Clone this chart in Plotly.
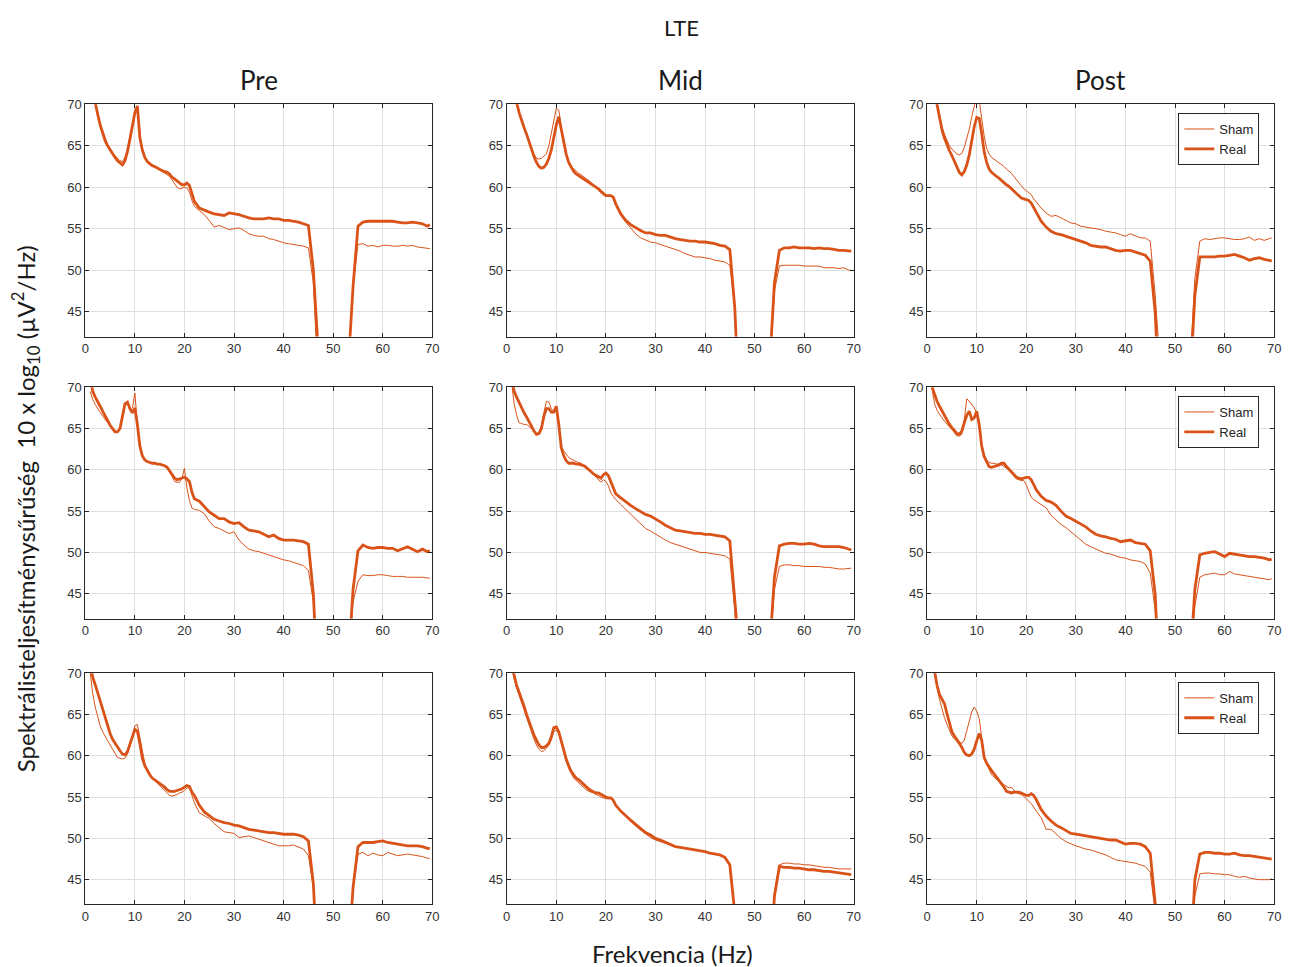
import plotly.graph_objects as go

W, H = 1301, 967

# Frequency axis (Hz): 0.5 Hz steps up to 22 Hz, then 1 Hz steps
FREQ = [1 + 0.5 * i for i in range(43)] + list(range(23, 70)) + [69.5]

COLUMN_TITLES = ["Pre", "Mid", "Post"]
X_TICKS = [0, 10, 20, 30, 40, 50, 60, 70]
Y_TICKS = [45, 50, 55, 60, 65, 70]

# ---------------- Row 1 ----------------
sham_pre_1 = [73, 71.5, 70.0, 68.8, 67.7, 66.8, 65.9, 65.2, 64.6, 64.1, 63.8, 63.5, 63.2, 63.1, 63.6, 64.6, 66.0, 67.5, 69.0, 69.5,
              66.2, 64.6, 63.7, 63.2, 62.9, 62.6, 62.4, 62.3, 62.1, 61.9, 61.7, 61.5, 61.3, 60.9, 60.5, 60.0, 59.8, 59.9, 60.0, 59.9,
              59.4, 58.4, 57.7,
              57.2, 56.7, 56.0, 55.2, 55.4, 55.1, 54.9, 55.0, 55.1, 54.8, 54.4, 54.2, 54.1, 54.1, 53.8, 53.7, 53.5, 53.3, 53.2, 53.1,
              53.0, 52.9, 52.7,
              48.5, 36, 30, 30, 30, 30, 30, 38, 48,
              53.1, 53.2, 52.9, 53.0, 52.8, 53.0, 53.0, 52.9, 52.9, 53.0, 52.9, 53.0, 52.8, 52.7, 52.6, 52.6]
real_pre_1 = [73, 71.5, 70.0, 68.8, 67.5, 66.5, 65.6, 65.0, 64.5, 64.0, 63.6, 63.2, 62.9, 62.7, 63.2, 64.3, 65.8, 67.5, 69.0, 69.8,
              66.0, 64.5, 63.6, 63.1, 62.8, 62.6, 62.5, 62.3, 62.2, 62.0, 61.9, 61.8, 61.6, 61.2, 61.0, 60.8, 60.6, 60.3, 60.3, 60.5,
              60.2, 59.2, 58.3,
              57.5, 57.2, 57.0, 56.8, 56.7, 56.6, 56.9, 56.8, 56.7, 56.5, 56.3, 56.2, 56.2, 56.2, 56.3, 56.2, 56.2, 56.0, 56.0, 55.9,
              55.8, 55.6, 55.4,
              50.0, 36, 30, 30, 30, 30, 30, 38, 48,
              55.3, 55.8, 55.9, 55.9, 55.9, 55.9, 55.9, 55.9, 55.8, 55.7, 55.7, 55.8, 55.7, 55.6, 55.3, 55.5]

sham_mid_1 = [73, 71.5, 70.2, 69.0, 68.0, 67.2, 66.4, 65.6, 64.8, 64.0, 63.5, 63.4, 63.5, 63.7, 64.0, 65.0, 66.5, 68.3, 69.5, 69.3,
              67.2, 65.3, 63.8, 62.9, 62.5, 62.2, 61.9, 61.7, 61.5, 61.3, 61.1, 60.9, 60.6, 60.3, 60.0, 59.7, 59.4, 59.1, 59.0, 59.0,
              58.9, 58.7, 57.8,
              56.6, 55.8, 55.1, 54.4, 53.9, 53.6, 53.4, 53.3, 53.1, 52.9, 52.7, 52.5, 52.3, 52.0, 51.8, 51.6, 51.6, 51.5, 51.4, 51.2,
              51.1, 51.0, 50.6,
              45.5, 32, 30, 30, 30, 30, 30, 38, 47.5,
              50.5, 50.6, 50.6, 50.6, 50.6, 50.5, 50.5, 50.5, 50.5, 50.3, 50.3, 50.3, 50.2, 50.3, 50.0, 50.0]
real_mid_1 = [73, 71.5, 70.2, 69.0, 68.0, 67.2, 66.4, 65.4, 64.5, 63.7, 63.0, 62.5, 62.3, 62.4, 62.8, 63.5, 64.5, 66.0, 67.5, 68.5,
              67.0, 65.3, 64.0, 63.0, 62.4, 61.9, 61.6, 61.4, 61.2, 61.0, 60.8, 60.7, 60.5, 60.3, 60.1, 59.8, 59.5, 59.2, 59.0, 59.0,
              59.0, 58.8, 58.0,
              56.8, 56.0, 55.5, 55.1, 54.8, 54.5, 54.5, 54.3, 54.2, 54.2, 54.0, 53.8, 53.7, 53.6, 53.5, 53.5, 53.4, 53.4, 53.3, 53.2,
              53.0, 52.9, 52.5,
              45.5, 32, 30, 30, 30, 30, 30, 38, 48.5,
              52.4, 52.7, 52.7, 52.8, 52.7, 52.7, 52.7, 52.6, 52.7, 52.6, 52.6, 52.5, 52.4, 52.4, 52.3, 52.3]

sham_post_1 = [73, 71.5, 70.0, 68.5, 67.3, 66.4, 65.6, 65.0, 64.6, 64.3, 64.0, 63.9, 64.1, 64.8, 65.8, 67.0, 68.5, 69.7, 71.0, 70.5,
               68.2, 66.2, 64.7, 64.0, 63.6, 63.4, 63.2, 63.0, 62.8, 62.5, 62.2, 62.0, 61.7, 61.3, 60.9, 60.5, 60.1, 59.8, 59.6, 59.4,
               59.1, 58.6, 58.2,
               57.5, 56.9, 56.5, 56.6, 56.3, 56.0, 55.7, 55.6, 55.3, 55.2, 55.1, 55.0, 54.9, 54.7, 54.6, 54.5, 54.3, 54.1, 54.4, 54.1,
               53.9, 53.9, 53.5,
               47.0, 33, 30, 30, 30, 30, 30, 38, 49,
               53.5, 53.8, 53.7, 53.8, 53.9, 53.9, 53.8, 53.7, 53.7, 53.8, 54.0, 53.6, 53.8, 53.6, 53.8, 53.9]
real_post_1 = [73, 71.5, 70.0, 68.3, 66.9, 65.9, 65.1, 64.4, 63.8, 63.1, 62.5, 61.8, 61.5, 61.9, 62.7, 63.9, 65.6, 67.3, 68.4, 68.3,
               66.5, 64.3, 63.0, 62.2, 61.8, 61.5, 61.3, 61.1, 60.8, 60.5, 60.3, 60.1, 59.8, 59.5, 59.2, 58.9, 58.7, 58.6, 58.5, 58.4,
               58.1, 57.6, 57.0,
               55.9, 55.2, 54.7, 54.4, 54.3, 54.1, 53.9, 53.7, 53.5, 53.3, 53.0, 52.9, 52.8, 52.8, 52.6, 52.4, 52.3, 52.4, 52.4, 52.2,
               52.0, 51.8, 51.1,
               44.9, 32, 30, 30, 30, 30, 30, 36, 46.9,
               51.6, 51.6, 51.6, 51.6, 51.7, 51.7, 51.8, 51.9, 51.7, 51.5, 51.2, 51.4, 51.5, 51.3, 51.2, 51.1]

# ---------------- Row 2 ----------------
sham_pre_2 = [69.5, 68.5, 67.9, 67.4, 66.9, 66.5, 66.1, 65.7, 65.3, 65.0, 64.7, 64.6, 65.0, 66.5, 68.0, 68.2, 67.2, 67.5, 69.3, 65.5,
              62.6, 61.6, 61.2, 61.0, 60.9, 60.8, 60.8, 60.7, 60.7, 60.6, 60.5, 60.3, 59.8, 59.2, 58.6, 58.5, 58.5, 59.0, 60.2, 57.8,
              56.3, 55.4, 55.2,
              55.1, 54.7, 53.8, 53.1, 52.9, 52.6, 52.3, 52.5, 51.5, 50.9, 50.4, 50.2, 50.1, 49.9, 49.7, 49.5, 49.3, 49.1, 49.0, 48.8,
              48.6, 48.4, 47.8,
              44.0, 32, 30, 30, 30, 30, 30, 36, 44.0,
              46.5, 47.3, 47.2, 47.2, 47.3, 47.3, 47.2, 47.1, 47.1, 47.1, 47.0, 47.0, 47.0, 47.0, 46.9, 46.9]
real_pre_2 = [71.0, 69.5, 68.8, 68.3, 67.7, 67.1, 66.5, 66.0, 65.4, 65.0, 64.6, 64.6, 65.0, 66.5, 68.0, 68.2, 67.4, 66.9, 67.5, 65.5,
              62.9, 61.7, 61.2, 61.0, 60.9, 60.8, 60.8, 60.7, 60.7, 60.6, 60.5, 60.3, 59.9, 59.4, 59.0, 58.8, 58.9, 59.0, 59.1, 58.9,
              58.6, 57.3, 56.5,
              56.2, 55.5, 54.9, 54.5, 54.1, 54.1, 53.7, 53.5, 53.6, 53.1, 52.7, 52.6, 52.5, 52.2, 51.9, 52.1, 51.7, 51.5, 51.5, 51.5,
              51.4, 51.3, 51.0,
              45.0, 32, 30, 30, 30, 30, 30, 36, 45.5,
              50.2, 50.9, 50.6, 50.5, 50.6, 50.6, 50.5, 50.5, 50.2, 50.5, 50.7, 50.4, 50.1, 50.4, 50.1, 50.2]

sham_mid_2 = [70.5, 68.0, 66.6, 65.7, 65.6, 65.5, 65.5, 65.3, 65.0, 64.7, 64.4, 64.5, 65.3, 66.9, 68.3, 68.2, 67.4, 67.1, 67.5, 65.5,
              62.8, 62.3, 61.9, 61.5, 61.3, 61.1, 61.0, 60.9, 60.8, 60.6, 60.5, 60.1, 59.8, 59.5, 59.2, 58.8, 58.5, 58.8, 58.6, 58.1,
              57.2, 56.8, 56.4,
              55.8, 55.2, 54.6, 54.0, 53.4, 52.9, 52.6, 52.2, 51.9, 51.5, 51.2, 51.0, 50.8, 50.6, 50.4, 50.2, 50.0, 50.0, 49.9, 49.8,
              49.7, 49.6, 49.2,
              43.0, 32, 30, 30, 30, 30, 30, 38, 45.5,
              48.3, 48.5, 48.5, 48.4, 48.4, 48.3, 48.3, 48.3, 48.3, 48.2, 48.2, 48.1, 48.0, 48.0, 48.1, 48.1]
real_mid_2 = [71.0, 69.5, 68.8, 68.1, 67.5, 66.9, 66.4, 65.9, 65.3, 64.7, 64.3, 64.4, 65.0, 66.5, 67.4, 67.4, 67.0, 67.0, 67.7, 65.5,
              62.7, 61.7, 61.1, 60.8, 60.8, 60.8, 60.7, 60.7, 60.6, 60.5, 60.3, 60.1, 59.8, 59.5, 59.3, 59.1, 59.0, 59.4, 59.6, 59.3,
              58.6, 57.8, 57.1,
              56.6, 56.1, 55.7, 55.3, 54.9, 54.6, 54.4, 54.1, 53.7, 53.3, 53.0, 52.7, 52.6, 52.5, 52.4, 52.3, 52.3, 52.2, 52.2, 52.1,
              52.0, 51.9, 51.4,
              44.0, 32, 30, 30, 30, 30, 30, 38, 47.0,
              50.8, 51.0, 51.1, 51.1, 51.0, 51.0, 51.1, 51.0, 50.8, 50.7, 50.7, 50.7, 50.7, 50.6, 50.4, 50.3]

sham_post_2 = [69.8, 68.0, 67.2, 66.7, 66.3, 65.9, 65.5, 65.2, 64.9, 64.5, 64.1, 64.1, 64.3, 66.1, 68.6, 68.3, 67.9, 67.5, 66.9, 65.2,
               62.9, 61.8, 61.2, 60.9, 60.8, 60.8, 60.7, 60.7, 60.6, 60.4, 60.2, 60.0, 59.6, 59.2, 58.9, 58.8, 58.7, 58.7, 58.2, 57.4,
               56.7, 56.4, 56.2,
               55.9, 55.4, 54.5, 53.9, 53.4, 53.0, 52.5, 52.0, 51.6, 51.0, 50.7, 50.4, 50.1, 49.9, 49.8, 49.6, 49.4, 49.3, 49.1, 49.0,
               48.9, 48.6, 47.5,
               43.0, 32, 30, 30, 30, 30, 30, 36, 43.5,
               47.0, 47.3, 47.4, 47.5, 47.3, 47.3, 47.7, 47.4, 47.3, 47.2, 47.1, 47.0, 46.9, 46.8, 46.7, 46.8]
real_post_2 = [70.0, 69.0, 68.3, 67.7, 67.1, 66.5, 66.0, 65.5, 65.1, 64.7, 64.4, 64.3, 64.7, 65.7, 66.6, 67.1, 66.1, 66.3, 67.1, 65.5,
               62.9, 61.6, 60.9, 60.4, 60.3, 60.4, 60.5, 60.6, 60.8, 60.8, 60.4, 60.1, 59.8, 59.4, 59.1, 59.0, 58.9, 59.0, 59.1, 59.1,
               58.8, 58.2, 57.6,
               56.8, 56.3, 56.1, 55.7, 55.0, 54.4, 54.1, 53.8, 53.5, 53.1, 52.6, 52.2, 52.0, 51.9, 51.7, 51.6, 51.3, 51.4, 51.5, 51.2,
               51.1, 51.0, 50.2,
               44.9, 32, 30, 30, 30, 30, 30, 36, 45.5,
               49.7, 49.9, 50.0, 50.1, 49.8, 49.5, 49.9, 49.8, 49.7, 49.6, 49.5, 49.5, 49.4, 49.3, 49.1, 49.2]

# ---------------- Row 3 ----------------
sham_pre_3 = [70.0, 67.5, 65.9, 64.6, 63.6, 62.9, 62.3, 61.8, 61.3, 60.8, 60.2, 59.8, 59.7, 59.6, 59.7, 60.2, 61.1, 62.3, 63.6, 63.8,
              62.1, 60.5, 59.1, 58.2, 57.6, 57.3, 57.0, 56.7, 56.4, 56.1, 55.9, 55.5, 55.2, 55.1, 55.2, 55.3, 55.5, 55.6, 55.8, 56.1,
              56.1, 55.2, 54.3,
              53.1, 52.8, 52.4, 51.8, 51.3, 50.8, 50.7, 50.6, 50.1, 50.2, 50.3, 50.1, 49.9, 49.7, 49.5, 49.3, 49.1, 49.1, 49.1, 49.2,
              48.9, 48.7, 47.9,
              44.0, 32, 30, 30, 30, 30, 30, 35, 44.0,
              48.1, 48.3, 47.9, 48.2, 48.0, 47.9, 48.3, 48.1, 47.9, 48.0, 48.1, 48.0, 47.9, 47.8, 47.6, 47.6]
real_pre_3 = [71.0, 69.5, 68.6, 67.6, 66.5, 65.5, 64.5, 63.7, 62.7, 62.0, 61.5, 61.0, 60.6, 60.2, 60.1, 60.5, 61.3, 62.3, 63.2, 63.0,
              61.5, 59.7, 58.8, 58.2, 57.7, 57.3, 57.1, 56.9, 56.7, 56.5, 56.2, 55.9, 55.7, 55.7, 55.7, 55.8, 55.9, 56.0, 56.2, 56.4,
              56.3, 55.6, 55.2,
              54.0, 53.2, 52.7, 52.3, 52.1, 51.9, 51.8, 51.6, 51.5, 51.3, 51.1, 51.0, 50.9, 50.8, 50.7, 50.7, 50.6, 50.5, 50.5, 50.5,
              50.4, 50.2, 49.7,
              44.5, 32, 30, 30, 30, 30, 30, 35, 44.0,
              49.0, 49.5, 49.5, 49.5, 49.6, 49.7, 49.5, 49.4, 49.3, 49.2, 49.1, 49.1, 49.1, 49.0, 48.8, 48.8]

sham_mid_3 = [71.0, 69.3, 68.2, 67.3, 66.4, 65.5, 64.6, 63.7, 62.8, 62.0, 61.3, 60.8, 60.5, 60.6, 60.9, 61.3, 62.0, 62.9, 63.1, 62.7,
              61.6, 60.3, 59.3, 58.5, 57.8, 57.3, 57.0, 56.7, 56.4, 56.1, 55.9, 55.7, 55.6, 55.5, 55.3, 55.2, 55.0, 54.9, 54.8, 54.8,
              54.8, 54.5, 53.9,
              53.2, 52.6, 52.0, 51.5, 51.0, 50.5, 50.1, 49.8, 49.6, 49.4, 49.2, 49.0, 48.9, 48.8, 48.7, 48.6, 48.5, 48.4, 48.2, 48.1,
              48.0, 47.7, 46.8,
              41.0, 32, 30, 30, 30, 30, 30, 33, 43.5,
              46.8, 47.0, 47.0, 46.9, 46.9, 46.8, 46.8, 46.7, 46.6, 46.5, 46.5, 46.4, 46.3, 46.3, 46.3, 46.3]
real_mid_3 = [71.0, 69.6, 68.5, 67.7, 66.9, 66.0, 65.0, 64.1, 63.2, 62.5, 61.9, 61.3, 61.0, 61.0, 61.2, 61.5, 62.3, 63.4, 63.5, 62.9,
              61.8, 60.6, 59.6, 58.8, 58.1, 57.7, 57.3, 57.1, 56.8, 56.5, 56.2, 56.0, 55.8, 55.6, 55.5, 55.5, 55.3, 55.2, 55.0, 54.9,
              54.9, 54.6, 54.0,
              53.3, 52.7, 52.2, 51.7, 51.2, 50.7, 50.4, 50.0, 49.8, 49.5, 49.2, 49.0, 48.9, 48.8, 48.7, 48.6, 48.5, 48.4, 48.2, 48.1,
              48.0, 47.7, 46.8,
              41.0, 32, 30, 30, 30, 30, 30, 33, 43.0,
              46.6, 46.5, 46.5, 46.4, 46.4, 46.3, 46.2, 46.2, 46.1, 46.0, 46.0, 45.9, 45.8, 45.7, 45.6, 45.6]

sham_post_3 = [72.0, 70.0, 68.3, 66.8, 65.6, 64.6, 63.8, 63.0, 62.4, 62.0, 61.8, 61.6, 61.5, 61.9, 63.0, 64.3, 65.3, 65.9, 65.4, 64.5,
               61.9, 60.0, 59.0, 58.3, 57.7, 57.4, 57.1, 56.9, 56.7, 56.5, 56.2, 56.1, 56.2, 55.8, 55.5, 55.4, 55.3, 55.1, 54.8, 54.6,
               54.2, 53.8, 53.3,
               52.5, 51.1, 51.1, 50.5, 50.0, 49.6, 49.3, 49.1, 48.9, 48.7, 48.6, 48.4, 48.2, 48.0, 47.7, 47.4, 47.3, 47.2, 47.1, 47.0,
               46.8, 46.6, 45.9,
               41.0, 32, 30, 30, 30, 30, 30, 34, 43.0,
               45.7, 45.8, 45.8, 45.7, 45.7, 45.6, 45.6, 45.4, 45.3, 45.4, 45.2, 45.1, 45.0, 45.0, 45.0, 45.1]
real_post_3 = [72.0, 70.0, 68.5, 67.4, 66.8, 66.3, 65.1, 63.8, 62.9, 62.4, 62.0, 61.5, 61.0, 60.4, 60.1, 60.0, 60.2, 60.8, 61.8, 62.7,
               61.9, 59.8, 59.1, 58.6, 58.2, 57.8, 57.4, 57.0, 56.7, 56.2, 55.7, 55.6, 55.5, 55.6, 55.6, 55.6, 55.5, 55.3, 55.2, 55.2,
               55.4, 55.2, 54.7,
               53.5, 52.7, 52.1, 51.6, 51.3, 50.9, 50.6, 50.5, 50.4, 50.3, 50.2, 50.1, 50.0, 49.9, 49.8, 49.8, 49.5, 49.3, 49.4, 49.4,
               49.3, 49.0, 48.2,
               41.0, 32, 30, 30, 30, 30, 30, 34, 45.0,
               48.1, 48.3, 48.3, 48.2, 48.2, 48.1, 48.1, 48.2, 48.0, 47.9, 47.9, 47.8, 47.7, 47.6, 47.5, 47.5]

PANELS = [
    [(sham_pre_1, real_pre_1), (sham_mid_1, real_mid_1), (sham_post_1, real_post_1)],
    [(sham_pre_2, real_pre_2), (sham_mid_2, real_mid_2), (sham_post_2, real_post_2)],
    [(sham_pre_3, real_pre_3), (sham_mid_3, real_mid_3), (sham_post_3, real_post_3)],
]

COLOR = "#D95319"
AXIS_COLOR = "#262626"
GRID_COLOR = "#dfdfdf"
TICK_FONT = dict(family="Arial, Liberation Sans, sans-serif", size=13, color="#333333")
TITLE_FONT = "Lato, Carlito, Open Sans, sans-serif"

COL_PX = [(82, 432), (507, 857), (931, 1281)]
ROW_PX = [(98, 332), (383, 616), (671, 904)]
LEGEND_NAMES = ["legend", "legend2", "legend3"]

fig = go.Figure()
layout_axes = {}

for r in range(3):
    for c in range(3):
        idx = r * 3 + c + 1
        sfx = "" if idx == 1 else str(idx)
        xref, yref = "x" + sfx, "y" + sfx
        sham, real = PANELS[r][c]
        n = min(len(FREQ), len(sham), len(real))
        show = (c == 2)
        fig.add_trace(go.Scatter(x=FREQ[:n], y=sham[:n], mode="lines", name="Sham",
                                 line=dict(color=COLOR, width=1), showlegend=show,
                                 legend=LEGEND_NAMES[r], xaxis=xref, yaxis=yref,
                                 hoverinfo="skip"))
        fig.add_trace(go.Scatter(x=FREQ[:n], y=real[:n], mode="lines", name="Real",
                                 line=dict(color=COLOR, width=2.8), showlegend=show,
                                 legend=LEGEND_NAMES[r], xaxis=xref, yaxis=yref,
                                 hoverinfo="skip"))
        x0, x1 = COL_PX[c]
        y0, y1 = ROW_PX[r]
        common = dict(showgrid=True, gridcolor=GRID_COLOR, gridwidth=1, zeroline=False,
                      showline=True, linecolor=AXIS_COLOR, linewidth=1, mirror="ticks",
                      ticks="inside", ticklen=4, tickcolor=AXIS_COLOR, tickwidth=1,
                      tickfont=TICK_FONT, fixedrange=True)
        layout_axes["xaxis" + sfx] = dict(domain=[x0 / W, x1 / W], anchor=yref, range=[0, 70],
                                          tickvals=X_TICKS, **common)
        layout_axes["yaxis" + sfx] = dict(domain=[1 - y1 / H, 1 - y0 / H], anchor=xref, range=[42, 70],
                                          tickvals=Y_TICKS, **common)

fig.update_layout(**layout_axes)

legend_common = dict(xanchor="right", yanchor="middle", bgcolor="white", bordercolor=AXIS_COLOR,
                     borderwidth=1, font=dict(family="Arial, Liberation Sans, sans-serif", size=13,
                                              color=AXIS_COLOR),
                     tracegroupgap=0, itemwidth=30, traceorder="normal")
leg_centers = [133, 418, 706]
fig.update_layout(
    legend=dict(x=1266 / W, y=1 - leg_centers[0] / H, **legend_common),
    legend2=dict(x=1266 / W, y=1 - leg_centers[1] / H, **legend_common),
    legend3=dict(x=1266 / W, y=1 - leg_centers[2] / H, **legend_common),
)

annotations = [
    dict(text="LTE", x=683 / W, y=1 - 21 / H, font=dict(size=22, family=TITLE_FONT, color="#1a1a1a")),
    dict(text="Frekvencia (Hz)", x=674 / W, y=1 - 953 / H, font=dict(size=24, family=TITLE_FONT, color="#1a1a1a")),
    dict(text="Spektrálisteljesítménysűrűség\u00a0 10 x log<sub>10</sub> (µV<sup>2</sup>/Hz)",
         x=22 / W, y=1 - 505 / H, textangle=-90, font=dict(size=24, family=TITLE_FONT, color="#1a1a1a")),
]
for c, title in enumerate(COLUMN_TITLES):
    x0, x1 = COL_PX[c]
    annotations.append(dict(text=title, x=(x0 + x1) / 2 / W, y=1 - 74 / H,
                            font=dict(size=26, family=TITLE_FONT, color="#1a1a1a")))
for a in annotations:
    a.update(xref="paper", yref="paper", showarrow=False, xanchor="center", yanchor="middle")

fig.update_layout(
    width=W, height=H,
    margin=dict(l=0, r=0, t=0, b=0),
    paper_bgcolor="white", plot_bgcolor="white",
    annotations=annotations,
    showlegend=True,
)

fig.write_html("out.html", config={"displayModeBar": False},
               post_script="document.body.style.margin='0';document.body.style.overflow='hidden';")
